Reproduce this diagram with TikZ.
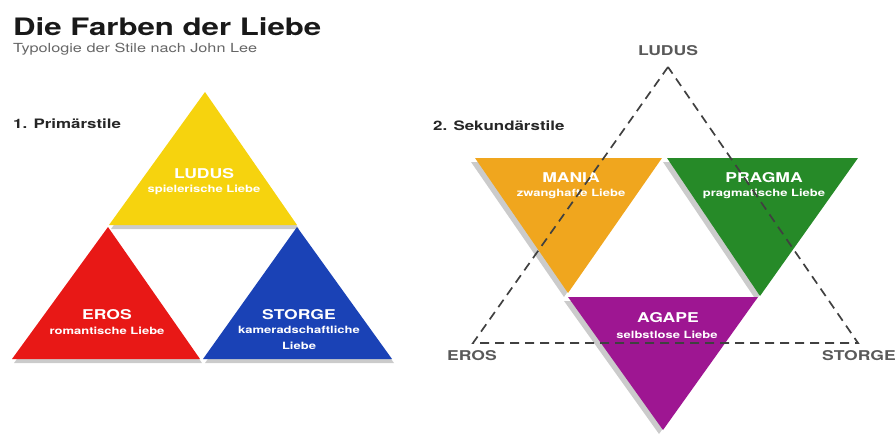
\documentclass[tikz,border=0pt]{standalone}
\usepackage{fontspec}
\setmainfont{TeX Gyre Heros}[FakeStretch=1.3]
\definecolor{gelb}{RGB}{246,211,14}
\definecolor{rot}{RGB}{232,24,22}
\definecolor{blau}{RGB}{26,66,182}
\definecolor{orange}{RGB}{240,166,30}
\definecolor{gruen}{RGB}{38,138,40}
\definecolor{lila}{RGB}{158,22,146}
\tikzstyle{shade} = [fill=black!45, opacity=0.45]
\tikzstyle{head} = [inner sep=0pt, text=white, font=\bfseries\fontsize{13.5}{15}\selectfont]
\tikzstyle{sub} = [inner sep=0pt, text=white, align=center, font=\bfseries\fontsize{10}{16}\selectfont]
\tikzstyle{pole} = [inner sep=0pt, text=black!65, font=\bfseries\fontsize{13.5}{15}\selectfont]
\tikzstyle{caption} = [inner sep=0pt, anchor=base west, text=black!85, font=\bfseries\fontsize{13}{15}\selectfont]
\tikzstyle{rim} = [dash pattern=on 9pt off 6pt, line width=1.7pt, black!75]

\begin{document}
\begin{tikzpicture}[x=1pt, y=-1pt]
        \useasboundingbox (0,0) rectangle (896,434);
        \node (title) [anchor=base west, inner sep=0pt, text=black!90, font=\bfseries\fontsize{24}{26}\selectfont] at (13,35) {Die Farben der Liebe};
        \node (subtitle) [anchor=base west, inner sep=0pt, text=black!60, font=\fontsize{12.5}{14}\selectfont] at (13,52) {Typologie der Stile nach John Lee};
        \node (prim) [caption] at (13,128) {1. Primärstile};
        \node (sek) [caption] at (433,130) {2. Sekundärstile};
        
        % Primaerstile
        \coordinate (y1) at (205,92);
        \coordinate (y2) at (109,225);
        \coordinate (y3) at (297,225);
        \coordinate (r1) at (108,227);
        \coordinate (r2) at (12,359);
        \coordinate (r3) at (200,359);
        \coordinate (b1) at (297,227);
        \coordinate (b2) at (203,359);
        \coordinate (b3) at (392,359);
        \fill [shade] ([xshift=2pt,yshift=-4pt]y1) -- ([xshift=2pt,yshift=-4pt]y2) -- ([xshift=2pt,yshift=-4pt]y3) -- cycle;
        \fill [shade] ([xshift=2pt,yshift=-4pt]r1) -- ([xshift=2pt,yshift=-4pt]r2) -- ([xshift=2pt,yshift=-4pt]r3) -- cycle;
        \fill [shade] ([xshift=2pt,yshift=-4pt]b1) -- ([xshift=2pt,yshift=-4pt]b2) -- ([xshift=2pt,yshift=-4pt]b3) -- cycle;
        \fill [gelb] (y1) -- (y2) -- (y3) -- cycle;
        \fill [rot] (r1) -- (r2) -- (r3) -- cycle;
        \fill [blau] (b1) -- (b2) -- (b3) -- cycle;
        \node (ludus) [head] at (204,174) {LUDUS};
        \node (ludussub) [sub] at (204,190) {spielerische Liebe};
        \node (eros) [head] at (107,315) {EROS};
        \node (erossub) [sub] at (107,331) {romantische Liebe};
        \node (storge) [head] at (299,315) {STORGE};
        \node (storgesub) [sub, anchor=north] at (299,326) {kameradschaftliche\\Liebe};
        
        % Sekundaerstile
        \coordinate (o1) at (475,158);
        \coordinate (o2) at (662,158);
        \coordinate (o3) at (568,293);
        \coordinate (g1) at (667,158);
        \coordinate (g2) at (858,158);
        \coordinate (g3) at (760,296);
        \coordinate (l1) at (568,297);
        \coordinate (l2) at (758,297);
        \coordinate (l3) at (663,430);
        \fill [shade] ([xshift=-4pt,yshift=-4pt]o1) -- ([xshift=-4pt,yshift=-4pt]o2) -- ([xshift=-4pt,yshift=-4pt]o3) -- cycle;
        \fill [shade] ([xshift=-4pt,yshift=-4pt]g1) -- ([xshift=-4pt,yshift=-4pt]g2) -- ([xshift=-4pt,yshift=-4pt]g3) -- cycle;
        \fill [shade] ([xshift=-4pt,yshift=-4pt]l1) -- ([xshift=-4pt,yshift=-4pt]l2) -- ([xshift=-4pt,yshift=-4pt]l3) -- cycle;
        \fill [orange] (o1) -- (o2) -- (o3) -- cycle;
        \fill [gruen] (g1) -- (g2) -- (g3) -- cycle;
        \fill [lila] (l1) -- (l2) -- (l3) -- cycle;
        \node (mania) [head] at (571,178) {MANIA};
        \node (maniasub) [sub] at (571,194) {zwanghafte Liebe};
        \node (pragma) [head] at (764,178) {PRAGMA};
        \node (pragmasub) [sub] at (764,194) {pragmatische Liebe};
        \node (agape) [head] at (668,318) {AGAPE};
        \node (agapesub) [sub] at (667,335) {selbstlose Liebe};
        
        \coordinate (top) at (668,67);
        \coordinate (left) at (473,343);
        \coordinate (right) at (858,343);
        \draw [rim] (top) -- (left) -- (right) -- cycle;
        \node (pludus) [pole] at (668,51) {LUDUS};
        \node (peros) [pole] at (472,356) {EROS};
        \node (pstorge) [pole] at (859,356) {STORGE};
\end{tikzpicture}
\end{document}
